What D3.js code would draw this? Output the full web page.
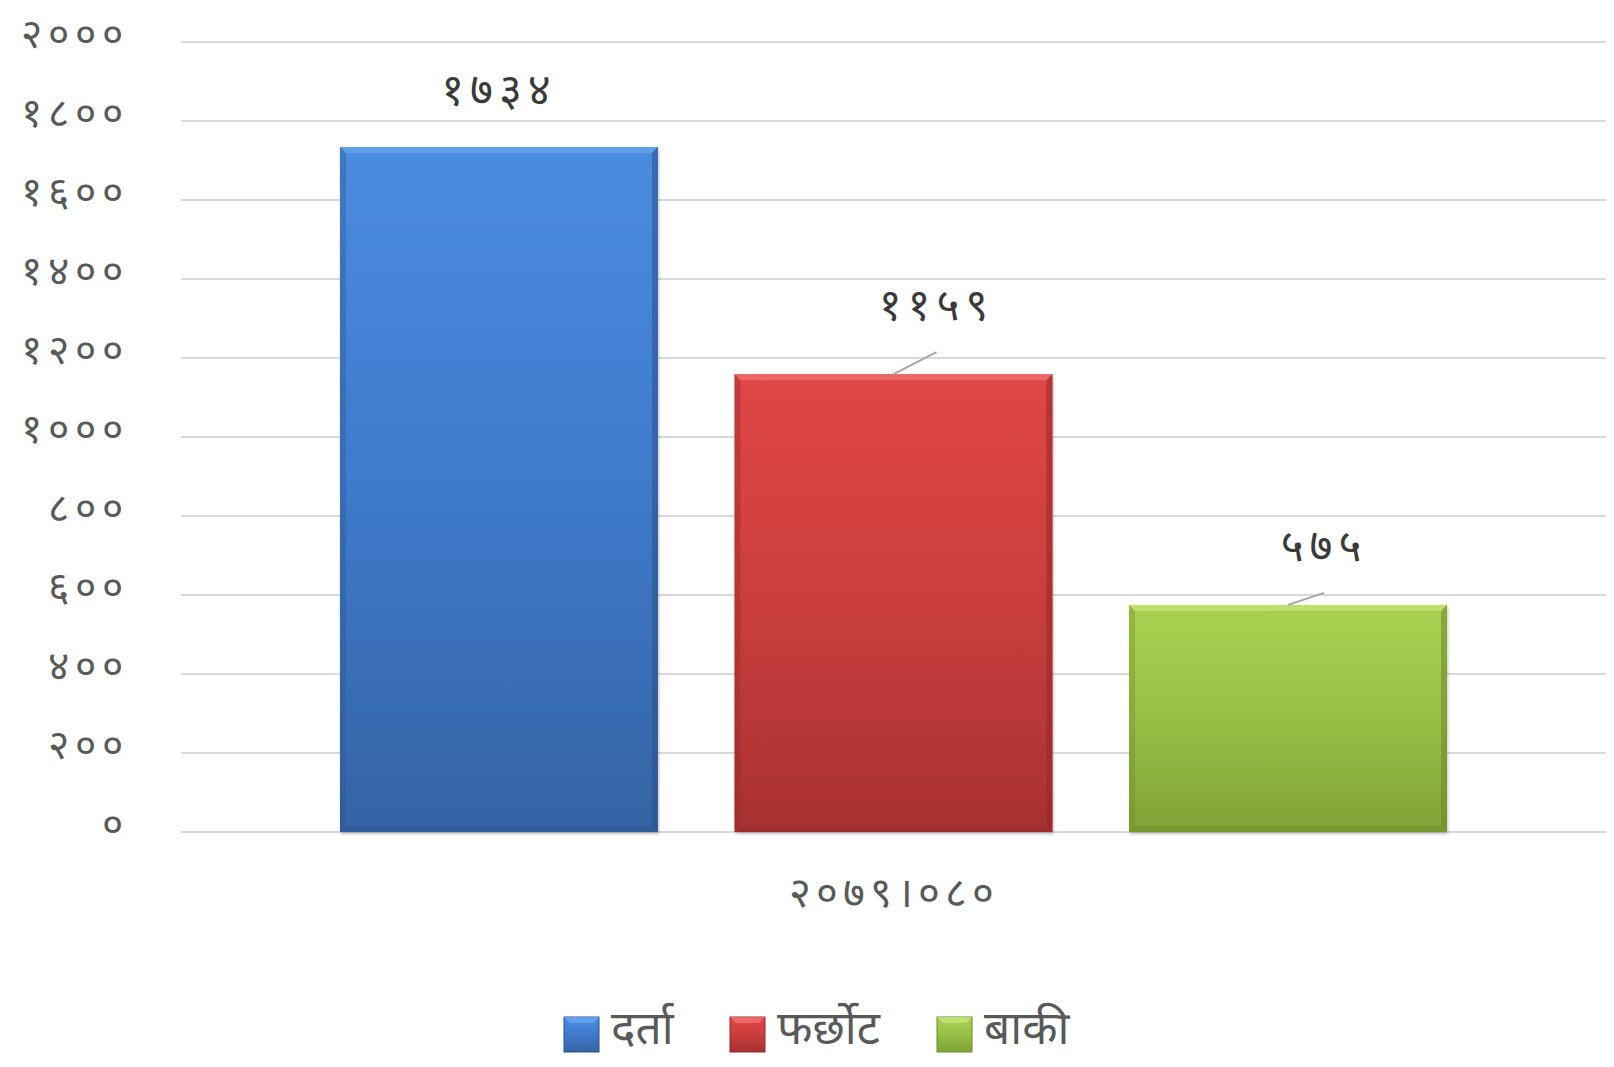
<!DOCTYPE html>
<html>
<head>
<meta charset="utf-8">
<script src="https://cdn.jsdelivr.net/npm/d3@7"></script>
<style>
html,body{margin:0;padding:0;background:#fff;}
svg{display:block;font-family:"Noto Sans Devanagari","Mangal","Lohit Devanagari","Noto Sans","DejaVu Sans",sans-serif;}
</style>
</head>
<body>
<svg id="chart" width="1614" height="1067"></svg>
<script>
const categories = ["२०७९।०८०"];
const seriesNames = ["दर्ता", "फर्छोट", "बाकी"];
const seriesValues = [1734, 1159, 575];
const valueLabels = ["१७३४", "११५९", "५७५"];
const yTicks = [0, 200, 400, 600, 800, 1000, 1200, 1400, 1600, 1800, 2000];
const yTickLabels = ["०", "२००", "४००", "६००", "८००", "१०००", "१२००", "१४००", "१६००", "१८००", "२०००"];
const seriesColors = [
  {top: "#4a8ce0", mid: "#3f7acb", bottom: "#3564a4", edgeL: "#6aa5ee", edgeD: "#2b5289"},
  {top: "#e04646", mid: "#ca3e3e", bottom: "#a83131", edgeL: "#f07272", edgeD: "#8f2828"},
  {top: "#a9d151", mid: "#97bf45", bottom: "#7ea236", edgeL: "#c6e47a", edgeD: "#6a8a2a"}
];

const svg = d3.select("#chart");
const margin = {left: 181, right: 8, top: 42, bottom: 235};
const W = 1614, H = 1067;
const innerW = W - margin.left - margin.right;
const innerH = H - margin.top - margin.bottom;

const y = d3.scaleLinear().domain([0, 2000]).range([margin.top + innerH, margin.top]);
const x0 = d3.scaleBand().domain(categories).range([margin.left, margin.left + innerW]).paddingInner(0).paddingOuter(0.1436);
const x1 = d3.scaleBand().domain(seriesNames).range([0, x0.bandwidth()]).paddingInner(0.194).paddingOuter(0);

// defs: gradients
const defs = svg.append("defs");
seriesColors.forEach((c, i) => {
  const g = defs.append("linearGradient").attr("id", "grad" + i).attr("x1", 0).attr("y1", 0).attr("x2", 0).attr("y2", 1);
  g.append("stop").attr("offset", "0%").attr("stop-color", c.top);
  g.append("stop").attr("offset", "50%").attr("stop-color", c.mid);
  g.append("stop").attr("offset", "100%").attr("stop-color", c.bottom);
});
const shadow = defs.append("filter").attr("id", "shadow").attr("x", "-5%").attr("y", "-5%").attr("width", "115%").attr("height", "115%");
shadow.append("feDropShadow").attr("dx", 1).attr("dy", 2).attr("stdDeviation", 1.5).attr("flood-color", "#000").attr("flood-opacity", 0.25);

// gridlines
svg.append("g").selectAll("line").data(yTicks).join("line")
  .attr("x1", margin.left).attr("x2", margin.left + innerW)
  .attr("y1", d => y(d)).attr("y2", d => y(d))
  .attr("stroke", "#d9d9d9").attr("stroke-width", 2);

// y axis labels
const yAxis = d3.axisLeft(y).tickValues(yTicks).tickFormat((d, i) => yTickLabels[i]).tickSize(0).tickPadding(52);
const yg = svg.append("g").attr("transform", `translate(${margin.left},0)`).call(yAxis);
yg.select(".domain").remove();
yg.selectAll("text").attr("font-size", 41).attr("fill", "#595959").attr("font-family", "inherit")
  .attr("letter-spacing", 6).attr("dy", "0.13em");

// x axis label
const xAxis = d3.axisBottom(x0).tickFormat(d => d).tickSize(0).tickPadding(45);
const xg = svg.append("g").attr("transform", `translate(0,${y(0)})`).call(xAxis);
xg.select(".domain").remove();
xg.selectAll("text").attr("font-size", 42).attr("fill", "#595959").attr("font-family", "inherit").attr("letter-spacing", 5);

// bars
const bars = svg.append("g");
categories.forEach(cat => {
  seriesNames.forEach((s, i) => {
    const bx = x0(cat) + x1(s);
    const bw = x1.bandwidth();
    const by = y(seriesValues[i]);
    const bh = y(0) - by;
    const c = seriesColors[i];
    const g = bars.append("g");
    g.append("rect").attr("x", bx).attr("y", by).attr("width", bw).attr("height", bh)
      .attr("fill", `url(#grad${i})`).attr("filter", "url(#shadow)");
    const b = 6;
    g.append("path").attr("d", `M${bx},${by}L${bx + bw},${by}L${bx + bw - b},${by + b}L${bx + b},${by + b}Z`)
      .attr("fill", c.edgeL).attr("opacity", 0.75);
    g.append("path").attr("d", `M${bx},${by}L${bx + b},${by + b}L${bx + b},${by + bh - b}L${bx},${by + bh}Z`)
      .attr("fill", c.edgeD).attr("opacity", 0.35);
    g.append("path").attr("d", `M${bx + bw},${by}L${bx + bw - b},${by + b}L${bx + bw - b},${by + bh - b}L${bx + bw},${by + bh}Z`)
      .attr("fill", c.edgeD).attr("opacity", 0.55);
    g.append("path").attr("d", `M${bx},${by + bh}L${bx + b},${by + bh - b}L${bx + bw - b},${by + bh - b}L${bx + bw},${by + bh}Z`)
      .attr("fill", c.edgeD).attr("opacity", 0.4);
  });
});

// value labels (leader offsets are label placement, not data)
const leaderOffsets = [null, [43, -22], [36, -12]];
const lbl = svg.append("g");
seriesNames.forEach((s, i) => {
  const cx = x0(categories[0]) + x1(s) + x1.bandwidth() / 2;
  const top = y(seriesValues[i]);
  let tx = cx, ty = top - 42;
  const off = leaderOffsets[i];
  if (off) {
    tx = cx + off[0];
    ty = top + off[1] - 32;
    lbl.append("line").attr("x1", cx).attr("y1", top).attr("x2", cx + off[0]).attr("y2", top + off[1])
      .attr("stroke", "#a6a6a6").attr("stroke-width", 2);
  }
  lbl.append("text").attr("x", tx).attr("y", ty).attr("text-anchor", "middle")
    .attr("font-size", 44).attr("fill", "#3a3a3a").attr("letter-spacing", 6).text(valueLabels[i]);
});

// legend
const legendX = [564, 730, 937];
const lg = svg.append("g");
seriesNames.forEach((s, i) => {
  const lx = legendX[i], ly = 1017;
  lg.append("rect").attr("x", lx).attr("y", ly).attr("width", 35).attr("height", 35)
    .attr("fill", `url(#grad${i})`).attr("stroke", seriesColors[i].edgeD).attr("stroke-width", 1);
  lg.append("path").attr("d", `M${lx},${ly}L${lx + 35},${ly}L${lx + 29},${ly + 6}L${lx + 6},${ly + 6}Z`)
    .attr("fill", seriesColors[i].edgeL).attr("opacity", 0.8);
  lg.append("text").attr("x", lx + 47).attr("y", ly + 27).attr("font-size", 46).attr("fill", "#595959").text(s);
});
</script>
</body>
</html>
